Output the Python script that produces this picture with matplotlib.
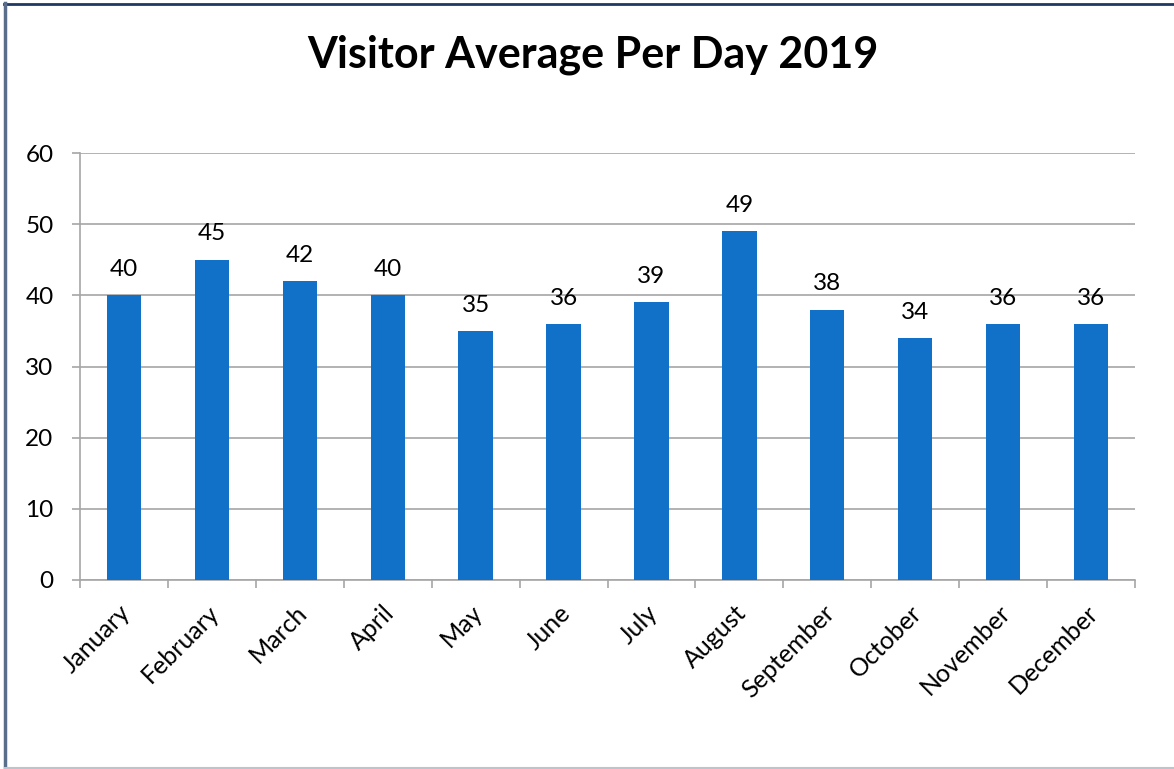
import matplotlib
matplotlib.use("Agg")
import matplotlib.pyplot as plt
from matplotlib.lines import Line2D
from matplotlib.transforms import ScaledTranslation
import numpy as np

months = ["January", "February", "March", "April", "May", "June", "July",
          "August", "September", "October", "November", "December"]
visitors = [40, 45, 42, 40, 35, 36, 39, 49, 38, 34, 36, 36]
y_ticks = [0, 10, 20, 30, 40, 50, 60]
title = "Visitor Average Per Day 2019"

plt.rcParams["font.family"] = ["Lato", "DejaVu Sans"]

W, H = 1174, 769
fig = plt.figure(figsize=(W / 100, H / 100), dpi=100)
ax = fig.add_axes([80 / W, 1 - 580 / H, (1135 - 80) / W, (580 - 153) / H])

x = np.arange(len(months))
bars = ax.bar(x, visitors, width=0.39, color="#1170C8", zorder=3)

for xi, v in zip(x, visitors):
    ax.annotate(str(v), (xi, v), xytext=(0, 11), textcoords="offset points",
                ha="center", va="bottom", fontsize=17.5, color="#000000")

ax.set_xlim(-0.5, len(months) - 0.5)
ax.set_ylim(0, 60)
ax.set_yticks(y_ticks)
ax.set_yticklabels([str(t) for t in y_ticks], fontsize=17.5)
ax.yaxis.grid(True, color="#A6A6A6", linewidth=1.2, zorder=0)
ax.tick_params(axis="y", length=6, width=1.2, color="#A6A6A6", pad=13)

ax.set_xticks(x)
ax.set_xticklabels(months, rotation=45, ha="right", rotation_mode="anchor",
                   fontsize=18)
ax.tick_params(axis="x", which="major", length=0, pad=15)
ax.set_xticks(np.arange(-0.5, len(months)), minor=True)
ax.tick_params(axis="x", which="minor", length=6, width=1.2, color="#A6A6A6")
shift = ScaledTranslation(-5 / 100, 0, fig.dpi_scale_trans)
for lbl in ax.get_xticklabels():
    lbl.set_transform(lbl.get_transform() + shift)

for side in ("top", "right"):
    ax.spines[side].set_visible(False)
for side in ("left", "bottom"):
    ax.spines[side].set_color("#A6A6A6")
    ax.spines[side].set_linewidth(1.2)

fig.text(593 / W, 1 - 55 / H, title, ha="center", va="center",
         fontsize=31, fontweight="bold")

# chart frame lines
fig.add_artist(Line2D([4 / W, 1], [1 - 3.5 / H] * 2, color="#1F3864",
                      linewidth=2, transform=fig.transFigure))
fig.add_artist(Line2D([5 / W] * 2, [0, 1 - 3 / H], color="#5A6E8C",
                      linewidth=2.5, transform=fig.transFigure))
fig.add_artist(Line2D([5 / W, 1], [1.2 / H] * 2, color="#BFC4CC",
                      linewidth=1.5, transform=fig.transFigure))

fig.savefig("out.png", dpi=100)
